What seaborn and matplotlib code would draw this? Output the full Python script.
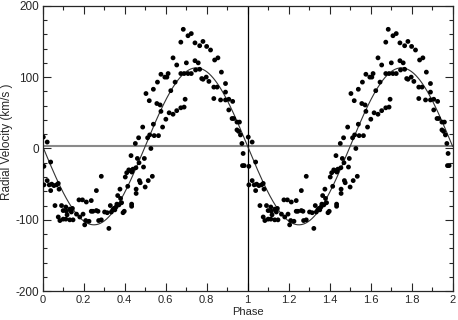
import numpy as np
import pandas as pd
import matplotlib
matplotlib.use("Agg")
import matplotlib.pyplot as plt
from matplotlib.ticker import MultipleLocator
import seaborn as sns

# orbital phase and measured radial velocity (km/s), one cycle
phase = [0.003, 0.022, 0.006, 0.039, 0.006, 0.022, 0.032, 0.044, 0.055, 0.068,
         0.076, 0.080, 0.039, 0.060, 0.076, 0.084, 0.092, 0.100, 0.100,
         0.113, 0.116, 0.113, 0.119, 0.132, 0.132, 0.140, 0.145, 0.148, 0.165,
         0.177, 0.181, 0.194, 0.197, 0.205, 0.210, 0.213, 0.226, 0.237, 0.237,
         0.245, 0.262, 0.262, 0.270, 0.273, 0.286, 0.286, 0.302, 0.315, 0.323,
         0.330, 0.335, 0.342, 0.348, 0.352, 0.358, 0.362, 0.366, 0.372, 0.377,
         0.380, 0.385, 0.392, 0.398, 0.403, 0.410, 0.415, 0.420, 0.426, 0.431,
         0.435, 0.440, 0.434, 0.434, 0.452, 0.455, 0.456, 0.456, 0.462, 0.468,
         0.470, 0.472, 0.476, 0.488, 0.492, 0.496, 0.500, 0.504, 0.512, 0.515,
         0.520, 0.522, 0.528, 0.535, 0.540, 0.540,
         0.544, 0.557, 0.560, 0.565, 0.573, 0.577, 0.577, 0.585, 0.596, 0.601,
         0.606, 0.612, 0.617, 0.625, 0.636, 0.636, 0.646, 0.654, 0.654, 0.674,
         0.674, 0.674, 0.686, 0.690, 0.690, 0.695, 0.701, 0.709, 0.709, 0.725,
         0.725, 0.743, 0.743, 0.746,
         0.759, 0.766, 0.766, 0.776, 0.782, 0.782, 0.798, 0.800, 0.811, 0.819,
         0.835, 0.835, 0.839, 0.851, 0.855, 0.868, 0.872, 0.892, 0.892, 0.892,
         0.908, 0.908, 0.924, 0.927, 0.932, 0.948, 0.948, 0.956, 0.960, 0.965,
         0.972, 0.978, 0.975, 0.983]
velocity = [16, 9, -25, -19, -51, -45, -51, -50, -52, -51,
            -49, -57, -59, -80, -96, -101, -80, -99, -87,
            -82, -88, -99, -93, -85, -100, -89, -84, -100, -92,
            -72, -96, -72, -92, -107, -101, -75, -102, -73, -88,
            -88, -59, -87, -88, -101, -39, -100, -89, -90, -112,
            -80, -89, -86, -84, -86, -82, -78, -66, -79, -57,
            -70, -76, -90, -88, -40, -34, -53, -30, -31, -10,
            -33, -29, -78, -81, 7, -27, -57, -63, -14, 15,
            -20, -45, -48, 30, -26, -14, -54, 77, 15, -45,
            67, 19, 0, -39, 34, 83,
            18, 63, 93, 18, 61, 104, 52, 30, 100, 41,
            100, 105, 50, 81, 127, 48, 93, 117, 53, 149,
            105, 57, 167, 105, 58, 69, 120, 158, 105, 161,
            105, 148, 123, 110,
            120, 144, 111, 98, 150, 97, 100, 143, 94, 138,
            86, 70, 124, 86, 127, 68, 107, 91, 79, 68,
            69, 54, 42, 66, 42, 37, 26, 24, 37, 19,
            7, -7, -24, -24]

# sine fit: systemic velocity and semi-amplitude
fit_gamma = 3
fit_k = 110

xtick_vals = [0, 0.2, 0.4, 0.6, 0.8, 1, 1.2, 1.4, 1.6, 1.8, 2]
xtick_text = ["0", "0.2", "0.4", "0.6", "0.8", "1", "1.2", "1.4", "1.6", "1.8", "2"]

# two cycles
df = pd.DataFrame({"phase": phase, "velocity": velocity})
df2 = pd.concat([df, df.assign(phase=df.phase + 1)], ignore_index=True)

ph = np.linspace(0, 2, 400)
fit = pd.DataFrame({"phase": ph, "velocity": fit_gamma - fit_k * np.sin(2 * np.pi * ph)})

sns.set_style("ticks")
plt.rcParams["font.family"] = ["Liberation Sans", "DejaVu Sans"]
plt.rcParams["axes.unicode_minus"] = False

fig = plt.figure(figsize=(4.58, 3.2), dpi=100)
ax = fig.add_axes([0.0932, 0.09, 0.895, 0.892])

ax.axhline(fit_gamma, color="#8a8a8a", lw=1.5, zorder=1)
ax.axvline(1, color="black", lw=0.9, zorder=1)
sns.lineplot(data=fit, x="phase", y="velocity", color="#333333", lw=0.8, ax=ax, zorder=2)
sns.scatterplot(data=df2, x="phase", y="velocity", color="black", s=12,
                edgecolor="none", ax=ax, zorder=3)

ax.set_xlim(0, 2)
ax.set_ylim(-200, 200)
ax.xaxis.set_minor_locator(MultipleLocator(0.1))
ax.yaxis.set_major_locator(MultipleLocator(100))
ax.yaxis.set_minor_locator(MultipleLocator(20))
ax.set_xticks(xtick_vals)
ax.set_xticklabels(xtick_text)
ax.tick_params(which="both", direction="in", top=True, right=True, labelsize=8.5,
               width=0.8)
ax.tick_params(axis="x", pad=2.5, labelsize=8)
ax.tick_params(axis="y", pad=2.5)
ax.tick_params(which="major", length=6)
ax.tick_params(which="minor", length=3)
for s in ax.spines.values():
    s.set_linewidth(0.9)

ax.set_xlabel("Phase", fontsize=8)
ax.set_ylabel("Radial Velocity (km/s )", fontsize=8.5)
ax.xaxis.set_label_coords(0.5, -0.057)
ax.yaxis.set_label_coords(-0.072, 0.524)

fig.savefig("out.png", dpi=100)
